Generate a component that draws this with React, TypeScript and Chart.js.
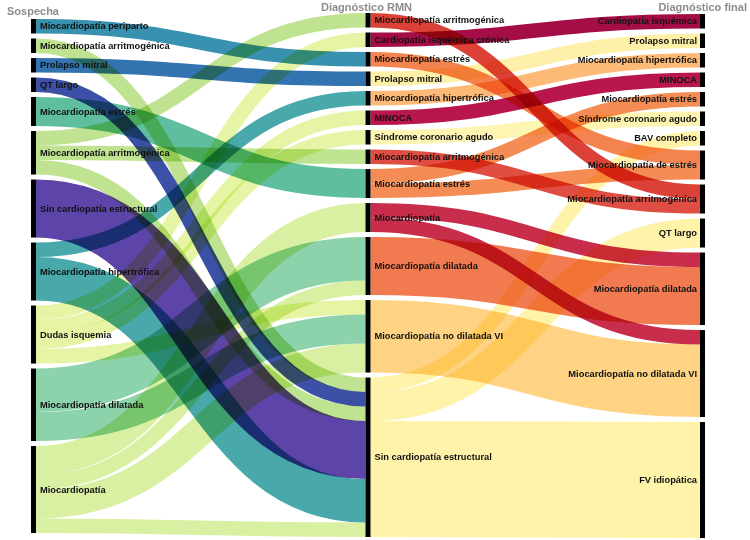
import { useEffect, useRef } from 'react';
import { Chart, registerables } from 'chart.js';

Chart.register(...registerables);

// ---- Data ----
const columnTitles = ['Sospecha', 'Diagnóstico RMN', 'Diagnóstico final'];

const sospecha = [
  'Miocardiopatía periparto',
  'Miocardiopatía arritmogénica',
  'Prolapso mitral',
  'QT largo',
  'Miocardiopatía estrés',
  'Miocardiopatía arritmogénica',
  'Sin cardiopatía estructural',
  'Miocardiopatía hipertrófica',
  'Dudas isquemia',
  'Miocardiopatía dilatada',
  'Miocardiopatía',
];

const rmn = [
  'Miocardiopatía arritmogénica',
  'Cardiopatía isquémica crónica',
  'Miocardiopatía estrés',
  'Prolapso mitral',
  'Miocardiopatía hipertrófica',
  'MINOCA',
  'Síndrome coronario agudo',
  'Miocardiopatía arritmogénica',
  'Miocardiopatía estrés',
  'Miocardiopatía',
  'Miocardiopatía dilatada',
  'Miocardiopatía no dilatada VI',
  'Sin cardiopatía estructural',
];

const diagnosticoFinal = [
  'Cardiopatía isquémica',
  'Prolapso mitral',
  'Miocardiopatía hipertrófica',
  'MINOCA',
  'Miocardiopatía estrés',
  'Síndrome coronario agudo',
  'BAV completo',
  'Miocardiopatía de estrés',
  'Miocardiopatía arritmogénica',
  'QT largo',
  'Miocardiopatía dilatada',
  'Miocardiopatía no dilatada VI',
  'FV idiopática',
];

// [source index, target index, patients]
const flowsSospechaRmn: number[][] = [
  [0, 2, 1],
  [1, 12, 1],
  [2, 3, 1],
  [3, 12, 1],
  [4, 8, 2],
  [5, 0, 1], [5, 7, 1], [5, 12, 1],
  [6, 12, 4],
  [7, 4, 1], [7, 12, 3],
  [8, 1, 1], [8, 5, 1], [8, 6, 1], [8, 11, 1],
  [9, 10, 3], [9, 11, 2],
  [10, 9, 2], [10, 10, 1], [10, 11, 2], [10, 12, 1],
];

const flowsRmnFinal: number[][] = [
  [0, 8, 1],
  [1, 0, 1],
  [2, 7, 1],
  [3, 1, 1],
  [4, 2, 1],
  [5, 3, 1],
  [6, 5, 1],
  [7, 8, 1],
  [8, 4, 1], [8, 7, 1],
  [9, 10, 1], [9, 11, 1],
  [10, 10, 4],
  [11, 11, 5],
  [12, 6, 1], [12, 9, 2], [12, 12, 8],
];

// ---- Styles ----
const sospechaColors = [
  '#3791af', '#c0e391', '#3273b0', '#3c50a5', '#5fbea0', '#c0e391',
  '#5c44a8', '#48a8aa', '#e6f5a5', '#8cd2aa', '#d9f0a2',
];
const rmnColors = [
  '#dc4137', '#a50d46', '#f4844f', '#fef0a8', '#fdba76', '#b8164c',
  '#fef5b2', '#e04d43', '#f58c55', '#c82d4b', '#f17a50', '#fed384', '#fff3aa',
];
const finalColors = Array(diagnosticoFinal.length).fill('#000');

const NODE_GAP = 0.345; // in value units
const COLUMN_OFFSET = [0.414, 0, 0.069];
const NODE_WIDTH = 5;

type Node = { col: number; name: string; value: number; y0: number; y1: number; color: string };
type Link = { s: Node; t: Node; value: number; sy: number; ty: number; color: string };

function buildLayout() {
  const cols = [sospecha, rmn, diagnosticoFinal];
  const colColors = [sospechaColors, rmnColors, finalColors];
  const flows = [flowsSospechaRmn, flowsRmnFinal];
  const nodes: Node[][] = cols.map((names, c) =>
    names.map((name, i) => ({ col: c, name, value: 0, y0: 0, y1: 0, color: colColors[c][i] }))
  );
  const inSum = nodes.map((col) => col.map(() => 0));
  const outSum = nodes.map((col) => col.map(() => 0));
  flows.forEach((fl, c) =>
    fl.forEach(([s, t, v]) => {
      outSum[c][s] += v;
      inSum[c + 1][t] += v;
    })
  );
  nodes.forEach((col, c) => {
    let y = COLUMN_OFFSET[c];
    col.forEach((n, i) => {
      n.value = Math.max(inSum[c][i], outSum[c][i]);
      n.y0 = y;
      n.y1 = y + n.value;
      y = n.y1 + NODE_GAP;
    });
  });
  const links: Link[] = [];
  flows.forEach((fl, c) =>
    fl.forEach(([s, t, v]) => {
      const sn = nodes[c][s];
      links.push({ s: sn, t: nodes[c + 1][t], value: v, sy: 0, ty: 0, color: sn.color });
    })
  );
  nodes.flat().forEach((n) => {
    const outs = links.filter((l) => l.s === n).sort((a, b) => a.t.y0 - b.t.y0);
    let y = n.y0;
    outs.forEach((l) => { l.sy = y; y += l.value; });
    const ins = links.filter((l) => l.t === n).sort((a, b) => a.s.y0 - b.s.y0);
    y = n.y0;
    ins.forEach((l) => { l.ty = y; y += l.value; });
  });
  return { nodes, links };
}

const sankeyPlugin = {
  id: 'sankeyDraw',
  afterDatasetsDraw(chart: any) {
    const { ctx } = chart;
    const xs = chart.scales.x;
    const ys = chart.scales.y;
    const { nodes, links } = buildLayout();
    const unit = ys.getPixelForValue(1) - ys.getPixelForValue(0);
    const colX = (c: number) => xs.getPixelForValue(c);

    ctx.save();
    ctx.globalCompositeOperation = 'multiply';
    ctx.lineCap = 'butt';
    links.forEach((l) => {
      const x0 = colX(l.s.col) + NODE_WIDTH;
      const x1 = colX(l.t.col);
      const w = l.value * unit;
      const y0 = ys.getPixelForValue(l.sy) + w / 2;
      const y1 = ys.getPixelForValue(l.ty) + w / 2;
      const xm = (x0 + x1) / 2;
      ctx.beginPath();
      ctx.moveTo(x0, y0);
      ctx.bezierCurveTo(xm, y0, xm, y1, x1, y1);
      ctx.strokeStyle = l.color;
      ctx.lineWidth = w;
      ctx.stroke();
    });
    ctx.restore();

    ctx.save();
    ctx.fillStyle = '#000';
    nodes.flat().forEach((n) => {
      const x = colX(n.col);
      const ya = ys.getPixelForValue(n.y0);
      const yb = ys.getPixelForValue(n.y1);
      ctx.fillRect(x, ya, NODE_WIDTH, yb - ya);
    });

    ctx.font = "bold 9.3px 'Liberation Sans', Arial, sans-serif";
    ctx.fillStyle = '#111';
    ctx.textBaseline = 'middle';
    nodes.flat().forEach((n) => {
      const x = colX(n.col);
      const yc = (ys.getPixelForValue(n.y0) + ys.getPixelForValue(n.y1)) / 2;
      if (n.col === 2) {
        ctx.textAlign = 'right';
        ctx.fillText(n.name, x - 3, yc + 0.5);
      } else {
        ctx.textAlign = 'left';
        ctx.fillText(n.name, x + NODE_WIDTH + 4, yc + 0.5);
      }
    });

    ctx.font = "bold 11px 'Liberation Sans', Arial, sans-serif";
    ctx.fillStyle = '#8c8c8c';
    ctx.textBaseline = 'alphabetic';
    ctx.textAlign = 'left';
    ctx.fillText(columnTitles[0], 7, 15);
    ctx.textAlign = 'center';
    ctx.fillText(columnTitles[1], colX(1) + 1, 11);
    ctx.textAlign = 'right';
    ctx.fillText(columnTitles[2], 747, 11);
    ctx.restore();
  },
};

export default function App() {
  const ref = useRef<HTMLCanvasElement | null>(null);
  useEffect(() => {
    document.body.style.margin = '0';
    const canvas = ref.current;
    if (!canvas) return;
    const chart = new Chart(canvas, {
      type: 'scatter',
      data: { datasets: [{ data: [], pointRadius: 0 }] },
      options: {
        animation: false,
        responsive: false,
        maintainAspectRatio: false,
        layout: { padding: 0 },
        plugins: { legend: { display: false }, tooltip: { enabled: false } },
        scales: {
          x: { type: 'linear', display: false, min: -31 / 334.5, max: (750 - 31) / 334.5 },
          y: { type: 'linear', display: false, reverse: true, min: -13 / 14.5, max: (540 - 13) / 14.5 },
        },
      },
      plugins: [sankeyPlugin],
    });
    return () => chart.destroy();
  }, []);
  return (
    <div style={{ width: 750, height: 540, background: '#fff' }}>
      <canvas ref={ref} width={750} height={540} style={{ display: 'block' }} />
    </div>
  );
}
